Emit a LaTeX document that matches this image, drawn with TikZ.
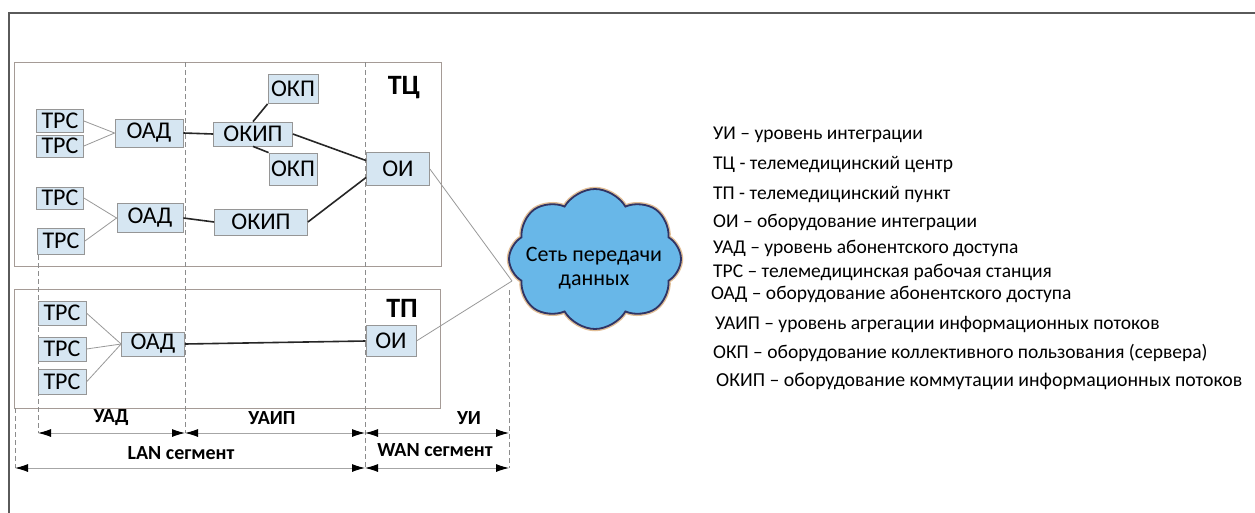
\documentclass[tikz,border=0pt]{standalone}
\usepackage{fontspec}
\setmainfont{Carlito}
\usetikzlibrary{arrows.meta,shapes.symbols,calc}

\definecolor{boxfill}{RGB}{214,230,242}
\definecolor{boxline}{RGB}{150,150,150}
\definecolor{zoneline}{RGB}{165,155,150}
\definecolor{dashgray}{RGB}{140,140,140}
\definecolor{cloudfill}{RGB}{104,183,232}
\definecolor{cloudline}{RGB}{48,52,100}
\definecolor{cloudglow}{RGB}{225,190,150}
\definecolor{framegray}{RGB}{90,90,90}

\tikzset{
  unit/.style={draw=boxline, fill=boxfill, line width=0.8pt, inner sep=0pt,
    font=\fontsize{24}{26}\selectfont},
  zone/.style={draw=zoneline, line width=1pt},
  bound/.style={draw=dashgray, line width=0.9pt, dash pattern=on 5pt off 3pt},
  thin link/.style={draw=gray!80, line width=0.8pt},
  thick link/.style={draw=black!85, line width=1.6pt},
  span/.style={draw=gray!70, line width=0.9pt,
    {Latex[length=13pt,width=8pt,color=black]}-{Latex[length=13pt,width=8pt,color=black]}},
  zonelabel/.style={font=\fontsize{28}{30}\selectfont\bfseries},
  spanlabel/.style={font=\fontsize{20}{22}\selectfont\bfseries},
  legend/.style={anchor=west, inner sep=0pt, font=\fontsize{19.5}{21}\selectfont}
}

\begin{document}
\begin{tikzpicture}[x=1pt,y=-1pt]
\useasboundingbox (0,0) rectangle (1255,512);
\fill[white] (0,0) rectangle (1255,512);

% outer frame
\draw[framegray, line width=1.2pt] (9,520) -- (9,13) -- (1265,13);

% zones: telemedicine centre and telemedicine point
\draw[zone] (14,62) rectangle (441,266);
\draw[zone] (14,289) rectangle (440,408);
\node[zonelabel] (tc) at (404,88) {ТЦ};
\node[zonelabel] (tp) at (402,308) {ТП};

% level boundaries
\coordinate (b0t) at (15,408);  \coordinate (b0b) at (15,468);
\coordinate (b1t) at (38,247);  \coordinate (b1b) at (38,433);
\coordinate (b2t) at (185,62);  \coordinate (b2b) at (185,433);
\coordinate (b3t) at (365,62);  \coordinate (b3b) at (365,468);
\coordinate (b4t) at (509,290); \coordinate (b4b) at (509,468);
\foreach \b in {b0,b1,b2,b3,b4} \draw[bound] (\b t) -- (\b b);

% centre equipment
\node[unit, minimum width=47pt, minimum height=23pt] (trc1) at (60,121) {ТРС};
\node[unit, minimum width=47pt, minimum height=22pt] (trc2) at (60,146) {ТРС};
\node[unit, minimum width=47pt, minimum height=22pt] (trc3) at (60,198) {ТРС};
\node[unit, minimum width=47pt, minimum height=26pt] (trc4) at (61,241) {ТРС};
\node[unit, minimum width=68pt, minimum height=28pt] (oad1) at (149,133) {ОАД};
\node[unit, minimum width=66pt, minimum height=29pt] (oad2) at (150,218) {ОАД};
\node[unit, minimum width=79pt, minimum height=24pt] (okip1) at (253,134) {ОКИП};
\node[unit, minimum width=93pt, minimum height=26pt] (okip2) at (261,222) {ОКИП};
\node[unit, minimum width=50pt, minimum height=29pt] (okp1) at (293,89) {ОКП};
\node[unit, minimum width=48pt, minimum height=32pt] (okp2) at (293,169) {ОКП};
\node[unit, minimum width=63pt, minimum height=33pt] (oi1) at (398,169) {ОИ};

% point equipment
\node[unit, minimum width=48pt, minimum height=24pt] (trc5) at (62,313) {ТРС};
\node[unit, minimum width=48pt, minimum height=24pt] (trc6) at (62,349) {ТРС};
\node[unit, minimum width=48pt, minimum height=25pt] (trc7) at (62,382) {ТРС};
\node[unit, minimum width=63pt, minimum height=24pt] (oad3) at (153,344) {ОАД};
\node[unit, minimum width=50pt, minimum height=31pt] (oi2) at (391,341) {ОИ};

% data network cloud, caption set on top of it
\node[cloud, cloud puffs=8, cloud puff arc=120, aspect=1.2,
      minimum width=172pt, minimum height=140pt, inner sep=0pt,
      fill=cloudfill, draw=cloudline, line width=1.8pt,
      preaction={draw=cloudglow, line width=4.5pt}] (net) at (595,259) {};
\node[align=center, inner sep=0pt, font=\fontsize{22}{24}\selectfont]
      (nettext) at (594,268) {Сеть передачи\\данных};
\coordinate (netin) at (512,281);

% links
\foreach \t in {trc1,trc2} \draw[thin link] (\t.east) -- (oad1.west);
\foreach \t in {trc3,trc4} \draw[thin link] (\t.east) -- (oad2.west);
\foreach \t in {trc5,trc6,trc7} \draw[thin link] (\t.east) -- (oad3.west);
\draw[thick link] (oad1.east) -- (okip1.west);
\draw[thick link] (oad2.east) -- (okip2.west);
\draw[thick link] (okip1.north) -- (okp1.south west);
\draw[thick link] (okip1.south) -- (okp2.north west);
\draw[thick link] (okip1.east) -- ($(oi1.west)!0.5!(oi1.north west)$);
\draw[thick link] (okip2.east) -- ($(oi1.west)!0.5!(oi1.south west)$);
\draw[thick link] (oad3.east) -- (oi2.west);
\draw[thin link] (oi1.east) -- (netin);
\draw[thin link] (oi2.east) -- (netin);

% level spans
\draw[span] (b1b) -- (b2b);
\draw[span] (b2b) -- (b3b |- b2b);
\draw[span] (b3b |- b2b) -- (b4b |- b2b);
\draw[span] (b0b) -- (b3b);
\draw[span] (b3b) -- (b4b);
\node[spanlabel] (lud) at (111,418) {УАД};
\node[spanlabel] (luaip) at (272,418) {УАИП};
\node[spanlabel] (lui) at (469,418) {УИ};
\node[spanlabel] (llan) at (181,453) {LAN сегмент};
\node[spanlabel] (lwan) at (435,450) {WAN сегмент};

% legend
\node[legend] (l1) at (713,135) {УИ – уровень интеграции};
\node[legend] (l2) at (713,165) {ТЦ - телемедицинский центр};
\node[legend] (l3) at (713,195) {ТП - телемедицинский пункт};
\node[legend] (l4) at (713,222) {ОИ – оборудование интеграции};
\node[legend] (l5) at (713,248) {УАД – уровень абонентского доступа};
\node[legend] (l6) at (713,272) {ТРС – телемедицинская рабочая станция};
\node[legend] (l7) at (711,294) {ОАД – оборудование абонентского доступа};
\node[legend] (l8) at (715,325) {УАИП – уровень агрегации информационных потоков};
\node[legend] (l9) at (713,353) {ОКП – оборудование коллективного пользования (сервера)};
\node[legend, font=\fontsize{19.8}{22}\selectfont] (l10) at (716,381)
  {ОКИП – оборудование коммутации информационных потоков};
\end{tikzpicture}
\end{document}
